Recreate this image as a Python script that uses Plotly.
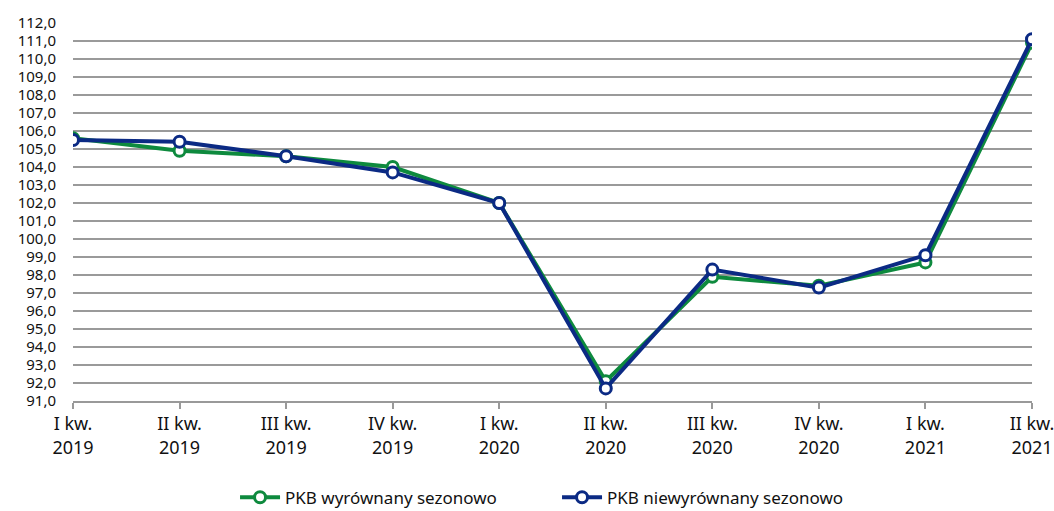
import plotly.graph_objects as go

categories = ["I kw.<br>2019", "II kw.<br>2019", "III kw.<br>2019", "IV kw.<br>2019",
              "I kw.<br>2020", "II kw.<br>2020", "III kw.<br>2020", "IV kw.<br>2020",
              "I kw.<br>2021", "II kw.<br>2021"]
sa_values = [105.6, 104.9, 104.6, 104.0, 102.0, 92.1, 97.9, 97.4, 98.7, 110.9]
nsa_values = [105.5, 105.4, 104.6, 103.7, 102.0, 91.7, 98.3, 97.3, 99.1, 111.1]
series_names = ["PKB wyrównany sezonowo", "PKB niewyrównany sezonowo"]
colors = ["#0E8A3E", "#0B2A84"]

FONT = "Noto Sans"
fig = go.Figure()
for name, vals, col in zip(series_names, [sa_values, nsa_values], colors):
    fig.add_trace(go.Scatter(
        x=categories, y=vals, name=name, mode="lines+markers",
        line=dict(color=col, width=4),
        marker=dict(symbol="circle", size=11, color="white", line=dict(color=col, width=3)),
    ))

fig.update_layout(
    width=1054, height=511,
    margin=dict(l=73, r=22, t=23, b=110),
    paper_bgcolor="white", plot_bgcolor="white",
    separators=", ",
    font=dict(family=FONT, size=15, color="#111111"),
    showlegend=True,
    legend=dict(orientation="h", xref="container", x=0.5285, xanchor="center",
                yref="container", y=0.026, yanchor="middle",
                font=dict(family=FONT, size=17), itemwidth=40,
                entrywidth=267, tracegroupgap=0),
)
fig.update_xaxes(
    type="category", range=[0, 9], showgrid=False, automargin=False,
    showline=True, linecolor="#999999", linewidth=1.5,
    ticks="outside", ticklen=6, tickcolor="#999999", tickwidth=1.5,
    tickfont=dict(family=FONT, size=18, color="#111111"),
)
fig.update_yaxes(
    range=[91, 112], dtick=1, tick0=91, tickformat=".1f", automargin=False,
    showgrid=True, gridcolor="#9a9a9a", gridwidth=1.5,
    zeroline=False, showline=False, ticks="", ticklabelstandoff=16,
    tickfont=dict(family=FONT, size=15, color="#111111"),
)
fig.write_html("out.html", config={"displayModeBar": False},
               post_script="document.body.style.margin='0';")
